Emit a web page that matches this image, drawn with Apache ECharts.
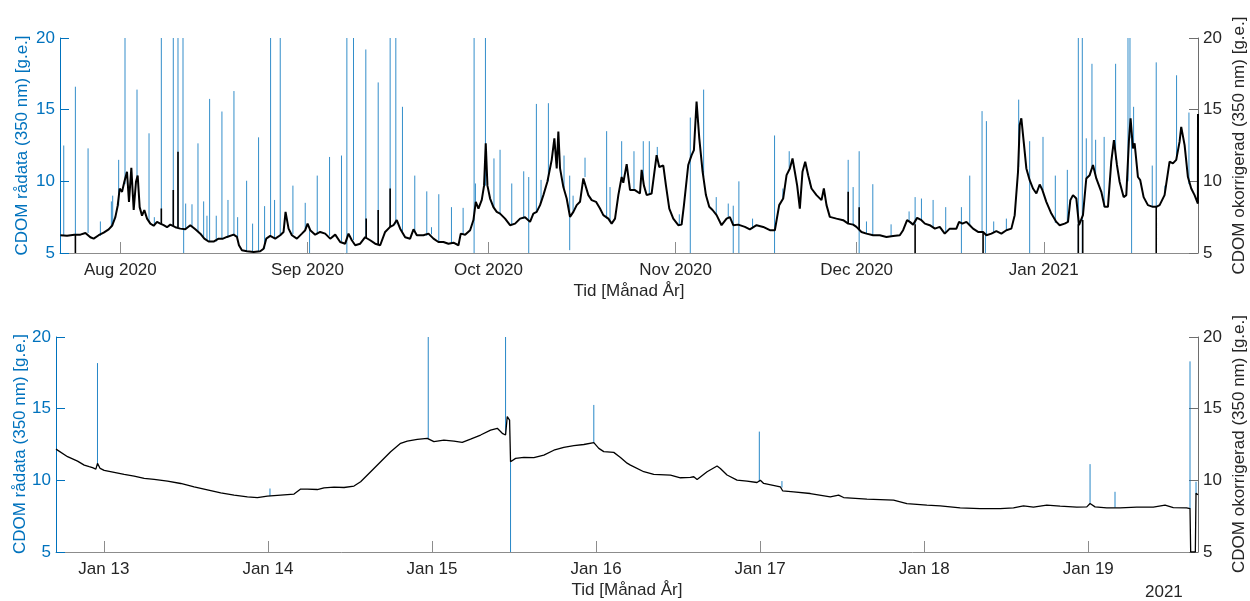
<!DOCTYPE html>
<html>
<head>
<meta charset="utf-8">
<script src="https://cdn.jsdelivr.net/npm/echarts@6/dist/echarts.min.js"></script>
<style>
  html, body { margin: 0; padding: 0; background: #fff; }
  #chart { width: 1250px; height: 601px; }
</style>
</head>
<body>
<div id="chart"></div>
<script>
// top panel: time in days from 2020-08-01, bottom panel: hours from 2021-01-13
const topStart = '2020-08-01';
const bottomStart = '2021-01-13';

const topTickDates = ['2020-08-01', '2020-09-01', '2020-10-01', '2020-11-01', '2020-12-01', '2021-01-01'];
const topTickLabels = ['Aug 2020', 'Sep 2020', 'Oct 2020', 'Nov 2020', 'Dec 2020', 'Jan 2021'];
const bottomTickDates = ['2021-01-13', '2021-01-14', '2021-01-15', '2021-01-16', '2021-01-17', '2021-01-18', '2021-01-19'];
const bottomTickLabels = ['Jan 13', 'Jan 14', 'Jan 15', 'Jan 16', 'Jan 17', 'Jan 18', 'Jan 19'];
const topRange = [-10, 178.55];     // days
const bottomRange = [-7, 160.05];   // hours

// corrected (black) series, top panel [day, value]
const corrTop = [
  [-9.93,6.24],[-8.83,6.2],[-7.62,6.28],[-6.62,6.28],[-5.79,6.4],[-4.97,6.1],[-4.42,6.0],[-3.59,6.24],[-2.76,6.42],[-1.93,6.65],
  [-1.38,6.9],[-0.83,7.5],[-0.44,8.3],[-0.11,9.5],[0.28,9.27],[0.66,9.97],[1.1,10.67],[1.43,8.57],[1.82,10.95],[2.21,8.0],
  [2.59,9.97],[2.87,10.4],[3.2,8.2],[3.59,7.6],[3.97,8.0],[4.42,7.4],[4.97,7.05],[5.52,6.9],[6.07,7.17],[6.62,7.05],
  [7.17,6.94],[7.73,6.8],[8.28,6.98],[9.11,6.8],[9.93,6.7],[10.76,6.65],[11.59,6.94],[12.42,6.65],[13.25,6.35],[13.91,6.0],
  [14.62,5.8],[15.45,5.8],[16.28,6.0],[17.0,6.0],[17.66,6.12],[18.76,6.28],[19.32,6.12],[19.65,5.54],[20.14,5.19],[20.97,5.12],
  [22.08,5.07],[23.18,5.12],[23.73,5.3],[24.17,6.0],[24.83,6.19],[25.66,6.0],[26.49,6.24],[27.04,6.47],[27.37,7.87],[27.87,6.7],
  [28.42,6.24],[29.25,6.0],[30.08,6.35],[30.63,6.59],[31.02,7.05],[31.46,6.59],[32.28,6.28],[33.11,6.47],[33.94,6.35],[34.77,6.0],
  [35.6,6.28],[36.42,5.77],[37.25,5.65],[37.8,6.35],[38.35,5.89],[38.91,5.54],[39.74,5.65],[40.56,6.1],[41.39,5.89],[42.22,5.65],
  [43.05,5.54],[43.87,6.47],[44.7,6.82],[45.25,6.94],[45.8,7.3],[46.36,6.7],[47.19,6.1],[48.01,6.0],[48.57,6.65],[49.12,6.24],
  [50.22,6.24],[51.05,6.35],[51.88,6.0],[52.7,5.77],[53.53,5.77],[54.36,5.65],[55.19,5.72],[56.02,5.54],[56.4,6.35],[57.12,6.28],
  [57.95,6.59],[58.5,7.3],[58.89,8.57],[59.33,8.1],[59.88,8.7],[60.26,9.7],[60.54,12.65],[60.82,9.7],[61.26,8.8],[61.81,8.2],
  [62.36,7.87],[62.91,7.75],[63.74,7.4],[64.57,6.94],[65.4,7.05],[66.23,7.4],[67.05,7.5],[67.88,7.17],[68.43,7.75],[68.98,7.87],
  [69.54,8.34],[70.09,9.04],[70.75,9.97],[71.47,11.5],[71.91,13.0],[72.3,10.9],[72.57,13.47],[72.85,10.9],[73.4,9.6],[73.95,8.8],
  [74.5,7.52],[75.06,7.87],[75.61,8.34],[76.16,8.57],[76.71,10.2],[76.99,10.3],[77.54,9.04],[78.09,8.69],[78.81,8.57],[79.47,8.1],
  [80.02,7.64],[80.85,7.4],[81.4,7.05],[81.96,7.4],[82.51,9.04],[83.06,10.3],[83.33,9.9],[83.89,11.2],[84.44,9.4],[85.26,9.39],
  [86.09,9.15],[86.37,10.8],[86.75,9.7],[87.2,9.04],[88.02,9.15],[88.85,11.83],[89.29,11.0],[89.96,11.1],[90.4,9.7],[90.95,8.1],
  [91.61,7.4],[92.44,6.94],[92.99,6.98],[93.38,8.34],[94.09,11.14],[94.65,11.83],[95.03,12.18],[95.47,15.57],[95.92,13.0],[96.47,10.67],
  [97.02,9.04],[97.57,8.22],[98.12,8.0],[98.79,7.64],[99.61,6.94],[100.44,7.4],[100.99,7.5],[101.55,6.94],[102.37,6.98],[103.48,6.82],
  [104.3,6.65],[105.41,6.94],[106.51,6.82],[107.62,6.59],[108.44,6.59],[109.16,8.34],[109.82,8.8],[110.38,10.43],[110.93,10.9],[111.37,11.6],
  [111.75,10.67],[112.14,9.7],[112.58,8.1],[113.02,10.67],[113.47,11.37],[113.96,10.43],[114.51,9.5],[115.34,9.04],[116.17,8.69],[116.56,9.5],
  [117.0,8.34],[117.55,7.52],[118.65,7.4],[119.76,7.29],[120.59,7.05],[121.41,6.98],[121.96,6.82],[122.79,6.47],[123.62,6.35],[124.72,6.24],
  [125.83,6.24],[126.93,6.12],[128.04,6.19],[129.14,6.24],[129.69,6.59],[130.35,7.29],[130.8,7.17],[131.35,6.98],[132.01,7.45],[132.73,7.29],
  [133.3,7.05],[134.1,6.94],[134.96,6.7],[135.76,6.82],[136.59,6.35],[137.42,6.7],[138.52,6.7],[138.96,7.17],[139.51,7.05],[140.18,7.17],
  [140.73,6.94],[141.28,6.7],[142.11,6.47],[142.94,6.47],[143.49,6.24],[144.32,6.35],[145.14,6.52],[145.97,6.35],[146.8,6.59],[147.63,6.7],
  [148.18,7.64],[148.73,10.67],[149.01,13.93],[149.28,14.4],[149.67,12.77],[150.11,10.9],[150.66,10.08],[151.21,9.5],[151.77,9.15],[152.32,9.78],
  [152.76,9.4],[153.42,8.57],[154.25,7.75],[155.08,7.17],[155.63,6.94],[156.46,7.05],[157.01,7.17],[157.4,8.69],[157.84,9.04],[158.39,8.8],
  [158.83,6.94],[159.49,7.64],[160.04,10.2],[160.6,10.43],[161.15,11.14],[161.7,10.2],[162.53,9.27],[163.08,8.22],[163.63,8.22],[164.18,11.37],
  [164.62,12.88],[165.12,11.14],[165.56,9.97],[166.23,8.9],[166.67,9.04],[167.11,12.88],[167.38,14.4],[167.77,12.3],[168.05,12.65],[168.6,10.3],
  [168.98,10.08],[169.54,8.9],[170.25,8.34],[171.08,8.22],[171.63,8.22],[172.19,8.34],[173.01,9.04],[173.84,11.37],[174.39,11.25],[174.94,11.5],
  [175.5,12.77],[175.77,13.8],[176.33,12.53],[176.88,10.3],[177.43,9.5],[177.98,9.04],[178.53,8.45],[178.55,14.7]
];

// short excursions of the corrected series, top panel [day, from, to]
const corrSpikesTop = [
  [-7.45,6.28,5],[6.79,7.0,8.1],[8.77,6.9,9.4],[9.55,6.8,12.07],[40.73,6.0,7.4],[42.72,5.6,8.0],[44.7,6.82,9.5],
  [120.59,7.05,9.27],[122.41,6.6,8.2],[131.68,7.0,5],[142.94,6.47,5],[158.72,7.0,5],[159.45,7.3,5],[171.63,8.22,5]
];

// raw (blue) spikes, top panel [day, from, to]
const rawSpikesTop = [
  [-9.38,6.2,12.5],[-7.45,6.3,16.6],[-5.35,6.4,12.3],[-3.31,6.2,7.2],[-1.49,6.8,8.6],[-1.27,6.9,9.0],[-0.28,8.3,11.5],
  [0.77,9.8,20],[2.76,10,16.4],[4.75,7.2,13.35],[5.63,6.9,7.5],[6.79,7.0,20],[8.77,6.9,20],[9.55,6.8,20],[10.38,6.7,20],
  [10.49,5,6.7],[10.82,6.7,8.45],[11.87,6.8,8.4],[12.86,6.5,12.65],[13.8,6.1,8.6],[14.35,5.9,7.6],[14.79,5.8,15.75],
  [15.89,5.8,7.6],[16.83,6.0,14.87],[17.83,6.1,8.7],[18.82,6.2,16.3],[19.43,6.1,7.5],[20.92,5.1,10.04],[21.91,5.1,7.05],
  [22.9,5.1,13.07],[23.9,5.3,8.27],[24.89,6.2,20],[25.55,6.0,8.7],[26.49,6.2,20],[28.59,6.3,9.7],[30.63,6.6,8.5],
  [31.35,5,6.6],[32.62,6.3,10.4],[34.66,6.2,11.7],[36.64,5.8,11.8],[37.53,5,20],[38.63,5.9,20],[40.67,6.1,19.2],
  [42.72,5.6,16.9],[44.7,6.8,20],[45.64,7.0,20],[46.74,6.5,15.2],[48.78,6.5,10.4],[50.77,6.2,9.3],[51.55,6.3,6.8],
  [52.76,5.8,9.1],[54.86,5.7,8.2],[56.79,6.3,8.15],[58.61,5,20],[58.83,8.5,9.85],[60.49,9.7,20],[61.9,8.2,11.6],
  [62.91,7.7,12.2],[64.85,7.0,9.85],[66.83,7.4,10.7],[67.66,5,10.3],[68.93,7.9,15.4],[69.7,8.5,10.1],[70.92,10,15.45],
  [73.51,9.5,11.8],[74.45,5.2,10.4],[75.01,7.9,9.0],[76.99,10.3,11.65],[80.57,7.4,13.5],[81.13,7.2,9.6],[83.06,10.3,12.8],
  [85.1,9.4,12.1],[86.64,9.8,12.8],[87.64,9.1,12.8],[88.96,11.5,12.4],[92.61,6.95,7.7],[94.43,5,14.45],[96.64,10.3,16.4],
  [98.73,7.65,8.9],[100.72,7.45,8.45],[101.55,5,8.3],[102.48,5,10.0],[104.75,6.7,7.4],[108.39,5,13.2],[109.77,8.8,9.5],
  [110.82,10.9,12.1],[114.24,9.8,10.1],[120.59,7.05,11.5],[121.41,7,9.6],[122.41,5,12.1],[123.62,6.35,7.2],[124.67,6.24,9.8],
  [127.7,6.2,7.0],[130.68,7.2,7.9],[131.68,7.0,8.9],[132.73,7.3,8.8],[134.66,6.8,8.7],[136.75,6.4,8.2],[139.35,5,8.2],
  [140.73,6.9,10.4],[142.77,6.5,14.9],[143.33,5,6.3],[143.49,6.2,14.2],[144.7,6.4,7.2],[146.8,6.6,7.4],[148.84,11,15.7],
  [150.66,5,12.8],[152.87,9.4,13.1],[154.91,7.1,10.4],[156.9,7.2,10.8],[158.72,5,20],[159.38,5,20],[160.04,10.2,13.0],
  [160.98,11,18.2],[161.59,10.3,12.9],[163.0,8.2,13.1],[164.9,11.5,18.2],[166.95,10,20],[167.28,13,20],[167.55,5,13],
  [167.88,12.5,15.2],[170.97,8.2,11.1],[171.63,8.2,18.3],[173.07,9.2,9.7],[175.0,11.5,17.4],[177.05,9.8,14.8]
];

// corrected (black) series, bottom panel [hour, value]
const corrBottom = [
  [-7,12.18],[-5.31,11.65],[-3.85,11.34],[-2.87,11.06],[-2.14,10.95],[-1.66,10.88],[-1.17,10.78],[-0.93,11.18],[-0.54,10.83],[0.05,10.69],
  [1.51,10.55],[2.97,10.41],[4.43,10.3],[5.9,10.13],[7.36,10.06],[9.31,9.95],[11.25,9.78],[13.2,9.55],[15.15,9.34],[17.1,9.13],
  [19.05,8.97],[21.0,8.85],[22.46,8.8],[23.92,8.9],[25.87,8.97],[27.82,9.04],[28.79,9.39],[29.77,9.39],[31.23,9.36],[32.2,9.48],
  [33.67,9.53],[35.13,9.5],[36.59,9.6],[37.56,9.9],[39.03,10.6],[40.49,11.3],[41.95,12.0],[43.41,12.58],[44.38,12.74],[45.85,12.86],
  [47.31,12.93],[48.28,12.7],[49.74,12.8],[51.21,12.74],[52.42,12.65],[53.64,12.88],[55.11,13.16],[56.57,13.5],[57.55,13.63],[58.28,13.28],
  [58.76,13.16],[59.01,14.45],[59.35,14.2],[59.49,11.3],[60.23,11.53],[61.44,11.6],[62.9,11.58],[64.36,11.76],[65.82,12.1],[67.28,12.3],
  [68.75,12.42],[70.21,12.5],[71.67,12.63],[72.4,12.23],[73.13,12.0],[74.59,11.95],[75.57,11.6],[76.54,11.2],[77.03,11.06],[78.98,10.6],
  [80.44,10.41],[82.89,10.37],[84.34,10.18],[85.8,10.2],[86.29,10.25],[86.78,10.06],[88.24,10.6],[89.7,11.0],[90.18,10.83],[91.16,10.37],
  [92.62,10.01],[94.08,9.95],[95.54,9.85],[96.03,10.01],[96.52,9.78],[98.95,9.55],[99.29,9.27],[100.9,9.2],[103.34,9.08],[106.26,8.85],
  [107.48,8.97],[108.21,8.8],[111.62,8.69],[115.52,8.62],[117.47,8.38],[120.39,8.27],[122.34,8.22],[125.26,8.08],[128.19,8.03],[131.11,8.03],
  [133.06,8.08],[134.52,8.22],[135.98,8.13],[137.93,8.27],[139.88,8.2],[142.31,8.13],[143.78,8.15],[144.26,8.38],[144.99,8.15],[146.7,8.08],
  [148.65,8.08],[151.08,8.13],[153.52,8.13],[155.23,8.27],[156.44,8.1],[158.39,8.08],[158.88,8.03],[158.98,5.0],[159.66,5.0],[159.76,9.1],
  [160.05,9.0]
];

// raw (blue) spikes, bottom panel [hour, from, to]
const rawSpikesBottom = [
  [-0.93,11.0,18.18],[24.3,8.9,9.43],[47.45,12.9,20],[58.76,13.2,20],[59.49,5,11.3],[71.67,12.6,15.26],
  [95.88,9.9,13.4],[99.19,9.5,9.95],[144.26,8.4,11.13],[147.91,8.1,9.2],[158.88,8.0,18.3],[159.76,9.0,9.9]
];

const DAY = 864e5, HOUR = 36e5;
const utc = s => Date.parse(s + 'T00:00:00Z');
const topBase = utc(topStart), bottomBase = utc(bottomStart);

const toLine = (arr, base, unit) => arr.map(p => [base + p[0] * unit, p[1]]);
const toSegments = (arr, base, unit) => {
  const out = [];
  arr.forEach(s => {
    const t = base + s[0] * unit;
    out.push([t, s[1]], [t, s[2]], [t, null]);
  });
  return out;
};

const FONT = "'Liberation Sans', Arial, Helvetica, sans-serif";
const FONT17 = "17px 'Liberation Sans', Arial, Helvetica, sans-serif";
const BLUE = '#0072BD';
const DARK = '#262626';
const GREY = '#8c8c8c';

function xAxisFor(grid, tickDates, tickLabels, range, base, unit) {
  const vals = tickDates.map(utc);
  return {
    type: 'value', gridIndex: grid,
    min: base + range[0] * unit, max: base + range[1] * unit,
    name: 'Tid [Månad År]', nameLocation: 'middle', nameGap: 30,
    nameTextStyle: { fontFamily: FONT, fontSize: 17, color: DARK },
    axisLine: { show: true, lineStyle: { color: GREY, width: 1 } },
    axisTick: { show: true, inside: true, length: 11, customValues: vals, lineStyle: { color: GREY } },
    axisLabel: {
      customValues: vals, margin: 9, fontFamily: FONT, fontSize: 17, color: DARK,
      formatter: v => tickLabels[vals.indexOf(v)]
    },
    splitLine: { show: false }
  };
}

function yAxisFor(grid, side, color) {
  const lineColor = side === 'left' ? BLUE : '#6e6e6e';
  return {
    type: 'value', gridIndex: grid, position: side,
    min: 5, max: 20, interval: 5,
    axisLine: { show: true, lineStyle: { color: lineColor, width: 1 } },
    axisTick: { show: true, inside: true, length: 9, lineStyle: { color: lineColor } },
    axisLabel: { margin: 5, fontFamily: FONT, fontSize: 17, color: color },
    splitLine: { show: false }
  };
}

const rawName = 'CDOM rådata (350 nm) [g.e.]';
const corrName = 'CDOM okorrigerad (350 nm) [g.e.]';

// rotated y-axis titles, placed beside each panel
function axisTitle(text, x, y, color) {
  return {
    type: 'text', x: x, y: y, rotation: Math.PI / 2,
    style: { text: text, font: FONT17, fill: color, align: 'center', verticalAlign: 'middle',
             textAlign: 'center', textVerticalAlign: 'middle' }
  };
}

const lineBase = { type: 'line', showSymbol: false, symbol: 'none', connectNulls: false, animation: false, silent: true };

const option = {
  backgroundColor: '#fff',
  animation: false,
  grid: [
    { left: 60, top: 38, width: 1138, height: 215, outerBoundsMode: 'none' },
    { left: 56, top: 337, width: 1142, height: 215, outerBoundsMode: 'none' }
  ],
  xAxis: [
    xAxisFor(0, topTickDates, topTickLabels, topRange, topBase, DAY),
    xAxisFor(1, bottomTickDates, bottomTickLabels, bottomRange, bottomBase, HOUR)
  ],
  yAxis: [
    yAxisFor(0, 'left', BLUE),
    yAxisFor(0, 'right', DARK),
    yAxisFor(1, 'left', BLUE),
    yAxisFor(1, 'right', DARK)
  ],
  series: [
    Object.assign({}, lineBase, { xAxisIndex: 0, yAxisIndex: 0, z: 2,
      data: toSegments(rawSpikesTop, topBase, DAY), lineStyle: { color: BLUE, width: 1, opacity: 0.8 } }),
    Object.assign({}, lineBase, { xAxisIndex: 0, yAxisIndex: 1, z: 3,
      data: toLine(corrTop, topBase, DAY), lineStyle: { color: '#000', width: 2 } }),
    Object.assign({}, lineBase, { xAxisIndex: 0, yAxisIndex: 1, z: 3,
      data: toSegments(corrSpikesTop, topBase, DAY), lineStyle: { color: '#000', width: 1.6 } }),
    Object.assign({}, lineBase, { xAxisIndex: 1, yAxisIndex: 2, z: 2,
      data: toSegments(rawSpikesBottom, bottomBase, HOUR), lineStyle: { color: BLUE, width: 1, opacity: 0.85 } }),
    Object.assign({}, lineBase, { xAxisIndex: 1, yAxisIndex: 3, z: 3,
      data: toLine(corrBottom, bottomBase, HOUR), lineStyle: { color: '#000', width: 1.3 } })
  ],
  graphic: [
    axisTitle(rawName, 22, 145.5, BLUE),
    axisTitle(corrName, 1239, 145.5, DARK),
    axisTitle(rawName, 20, 444, BLUE),
    axisTitle(corrName, 1239, 444, DARK),
    { type: 'text', left: 1145, top: 584,
      style: { text: '2021', font: FONT17, fill: DARK } }
  ]
};

const chart = echarts.init(document.getElementById('chart'), null, { renderer: 'canvas' });
chart.setOption(option);
</script>
</body>
</html>
